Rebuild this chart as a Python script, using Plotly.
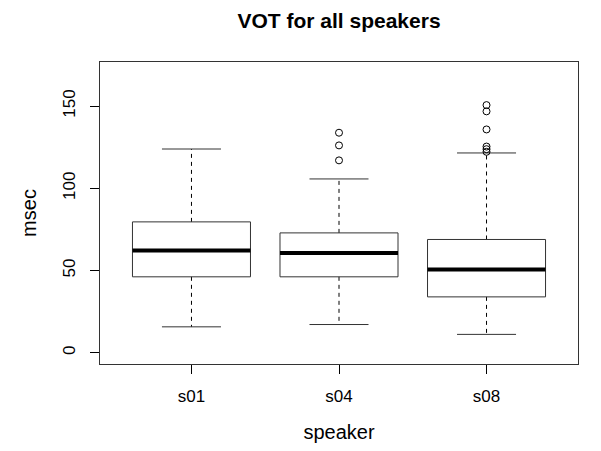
import plotly.graph_objects as go

# Voice onset time summary per speaker (msec)
speakers = ["s01", "s04", "s08"]
lower_whisker = [15.8, 17.2, 11.2]
q1 = [46.2, 46.2, 34.0]
median = [62.2, 60.7, 50.7]
q3 = [79.6, 72.9, 68.9]
upper_whisker = [123.9, 105.7, 121.5]
outliers = {
    "s01": [],
    "s04": [117.0, 126.1, 133.8],
    "s08": [122.2, 123.8, 125.4, 135.8, 146.8, 150.6],
}
y_ticks = [0, 50, 100, 150]

BOX_HALF = 0.4      # boxwex 0.8
CAP_HALF = 0.2      # staple half width

box_x, box_y = [], []
med_x, med_y = [], []
wh_x, wh_y = [], []
cap_x, cap_y = [], []
out_x, out_y = [], []

for i, sp in enumerate(speakers):
    c = i + 1
    l, r = c - BOX_HALF, c + BOX_HALF
    box_x += [l, r, r, l, l, None]
    box_y += [q1[i], q1[i], q3[i], q3[i], q1[i], None]
    med_x += [l, r, None]
    med_y += [median[i], median[i], None]
    wh_x += [c, c, None, c, c, None]
    wh_y += [q3[i], upper_whisker[i], None, q1[i], lower_whisker[i], None]
    cap_x += [c - CAP_HALF, c + CAP_HALF, None, c - CAP_HALF, c + CAP_HALF, None]
    cap_y += [upper_whisker[i], upper_whisker[i], None, lower_whisker[i], lower_whisker[i], None]
    for v in outliers[sp]:
        out_x.append(c)
        out_y.append(v)

fig = go.Figure()
fig.add_trace(go.Scatter(x=wh_x, y=wh_y, mode="lines",
                         line=dict(color="black", width=1, dash="4px,4px"),
                         hoverinfo="skip"))
fig.add_trace(go.Scatter(x=cap_x, y=cap_y, mode="lines",
                         line=dict(color="#333333", width=1), hoverinfo="skip"))
fig.add_trace(go.Scatter(x=box_x, y=box_y, mode="lines",
                         line=dict(color="#333333", width=1), hoverinfo="skip"))
fig.add_trace(go.Scatter(x=med_x, y=med_y, mode="lines",
                         line=dict(color="black", width=4), hoverinfo="skip"))
fig.add_trace(go.Scatter(x=out_x, y=out_y, mode="markers",
                         marker=dict(symbol="circle-open", size=7,
                                     color="black", line=dict(width=1)),
                         hoverinfo="y"))

font_family = "Liberation Sans, Arial, sans-serif"

fig.update_layout(
    width=601, height=451,
    margin=dict(l=100, r=23, t=62, b=87),
    paper_bgcolor="white", plot_bgcolor="white",
    showlegend=False,
    font=dict(family=font_family, size=17, color="black"),
    title=dict(text="<b>VOT for all speakers</b>", x=0.5641,
               xanchor="center", y=1 - 21 / 451, yanchor="middle",
               font=dict(size=21, family=font_family, color="black")),
)
fig.update_xaxes(
    range=[0.38, 3.62],
    tickvals=[i + 1 for i in range(len(speakers))],
    ticktext=speakers,
    showgrid=False, zeroline=False,
    showline=True, mirror=True, linecolor="#333333", linewidth=1,
    ticks="outside", ticklen=9, tickcolor="black", tickwidth=1,
    ticklabelstandoff=8,
    title=dict(text="speaker", standoff=19),
)
fig.update_yaxes(
    range=[-6.8, 176.8],
    tickvals=y_ticks,
    showgrid=False, zeroline=False,
    showline=True, mirror=True, linecolor="#333333", linewidth=1,
    ticks="outside", ticklen=9, tickcolor="black", tickwidth=1,
    tickangle=-90, ticklabelstandoff=8,
    title=dict(text="msec", standoff=18),
)

fig.write_html("out.html")
